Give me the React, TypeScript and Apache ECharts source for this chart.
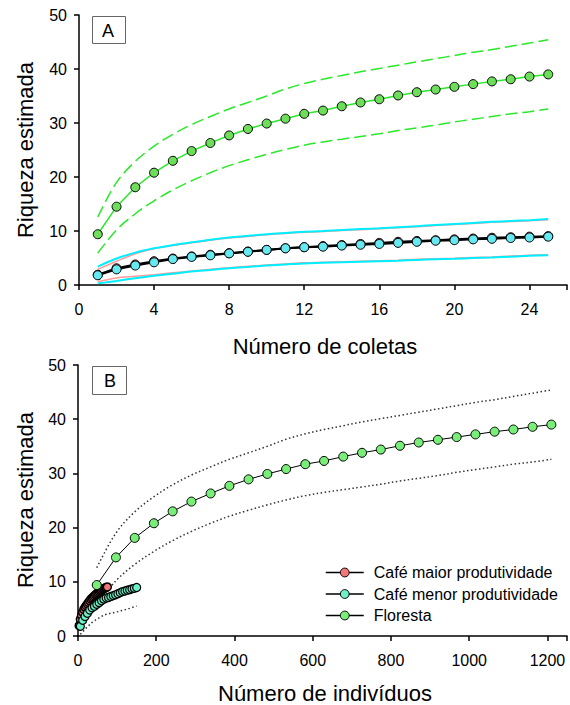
import React, { useEffect, useRef } from "react";
import * as echarts from "echarts";

// ---- Data ----
const samples = [1, 2, 3, 4, 5, 6, 7, 8, 9, 10, 11, 12, 13, 14, 15, 16, 17, 18, 19, 20, 21, 22, 23, 24, 25];

const florestaMean = [9.4, 14.5, 18.1, 20.8, 23.0, 24.8, 26.3, 27.7, 28.9, 29.9, 30.8, 31.7, 32.3, 33.1, 33.8, 34.4, 35.1, 35.7, 36.2, 36.7, 37.2, 37.7, 38.1, 38.6, 39.0];
const florestaUpper = [12.6, 19.0, 22.9, 25.7, 27.9, 29.7, 31.2, 32.6, 33.8, 35.0, 36.3, 37.3, 38.1, 38.8, 39.5, 40.1, 40.7, 41.3, 41.9, 42.5, 43.1, 43.6, 44.2, 44.8, 45.4];
const florestaLower = [5.9, 10.2, 13.2, 15.6, 17.6, 19.3, 20.8, 22.1, 23.2, 24.2, 25.1, 25.9, 26.5, 27.0, 27.5, 28.0, 28.6, 29.1, 29.6, 30.2, 30.7, 31.2, 31.7, 32.1, 32.6];

const menorMean = [1.8, 2.9, 3.6, 4.2, 4.8, 5.2, 5.5, 5.85, 6.15, 6.5, 6.8, 7.0, 7.1, 7.3, 7.45, 7.6, 7.8, 8.0, 8.2, 8.3, 8.45, 8.55, 8.7, 8.8, 8.95];
const menorUpper = [3.4, 4.9, 6.0, 6.8, 7.4, 7.9, 8.4, 8.8, 9.1, 9.4, 9.65, 9.85, 10.0, 10.2, 10.35, 10.5, 10.7, 10.9, 11.1, 11.3, 11.5, 11.7, 11.85, 12.0, 12.2];
const menorLower = [0.3, 0.75, 1.25, 1.7, 2.1, 2.5, 2.8, 3.1, 3.35, 3.6, 3.8, 4.0, 4.1, 4.2, 4.3, 4.4, 4.5, 4.65, 4.75, 4.85, 5.0, 5.1, 5.25, 5.4, 5.5];

const maiorMean = [1.9, 3.1, 3.8, 4.4, 4.9, 5.3, 5.6, 5.9, 6.2, 6.5, 6.8, 7.0, 7.2, 7.4, 7.6, 7.8, 8.0, 8.15, 8.3, 8.45, 8.6, 8.75, 8.85, 8.95, 9.05];
const maiorUpper = [2.9, 4.4, 5.8, 6.7, 7.3, 7.8, 8.3, 8.7, 9.0, 9.3, 9.55, 9.75, 9.9, 10.1, 10.25, 10.4, 10.6, 10.8, 11.0, 11.2, 11.4, 11.6, 11.75, 11.9, 12.1];
const maiorLower = [0.6, 1.3, 1.6, 1.9, 2.25, 2.6, 2.9, 3.2, 3.45, 3.7, 3.9, 4.1, 4.2, 4.3, 4.4, 4.5, 4.6, 4.75, 4.85, 4.95, 5.1, 5.2, 5.35, 5.5, 5.6];

const florestaIndiv = [48, 97, 145, 194, 242, 290, 339, 387, 436, 484, 532, 581, 629, 678, 726, 774, 823, 871, 920, 968, 1016, 1065, 1113, 1162, 1210];
const menorIndiv = [6, 12, 18, 24, 30, 36, 42, 48, 54, 60, 66, 72, 78, 84, 90, 96, 102, 108, 114, 120, 126, 132, 138, 144, 150];
const maiorIndiv = [3, 6, 9, 12, 15, 18, 21, 24, 27, 30, 33, 36, 39, 42, 45, 48, 51, 54, 57, 60, 63, 66, 69, 72, 75];

const yTicks = [0, 10, 20, 30, 40, 50];
const xTicksA = [0, 4, 8, 12, 16, 20, 24];
const xTicksB = [0, 200, 400, 600, 800, 1000, 1200];

const names = ["Café maior produtividade", "Café menor produtividade", "Floresta"];

const FONT = "'Liberation Sans', Arial, Helvetica, sans-serif";

const zip = (xs: number[], ys: number[]) => xs.map((x, i) => [x, ys[i]]);

export default function App() {
  const ref = useRef<HTMLDivElement>(null);
  useEffect(() => {
    if (!ref.current) return;
    const chart = echarts.init(ref.current, undefined, { renderer: "svg" });

    const axisCommon = {
      axisLine: { show: true, lineStyle: { color: "#000", width: 1.5 } },
      axisTick: { show: true, length: 5, lineStyle: { color: "#000", width: 1.5 } },
      splitLine: { show: false },
    };

    const xAxisFor = (grid: number, ticks: number[], max: number) => ({
      type: "value",
      gridIndex: grid,
      min: ticks[0],
      max,
      interval: ticks[1] - ticks[0],
      ...axisCommon,
      axisLabel: {
        fontSize: 16,
        color: "#000",
        fontFamily: FONT,
        margin: 16,
        formatter: (v: number) => (ticks.indexOf(v) >= 0 ? String(v) : ""),
      },
    });

    const yAxisFor = (grid: number) => ({
      type: "value",
      gridIndex: grid,
      min: yTicks[0],
      max: yTicks[yTicks.length - 1],
      interval: yTicks[1] - yTicks[0],
      ...axisCommon,
      axisLabel: { fontSize: 16, color: "#000", fontFamily: FONT, margin: 12 },
    });

    const ciLine = (data: number[][], grid: number, color: string, width: number, type: any, name: string) => ({
      type: "line",
      name,
      xAxisIndex: grid,
      yAxisIndex: grid,
      data,
      showSymbol: false,
      symbol: "none",
      smooth: 0.35,
      lineStyle: { color, width, type },
      silent: true,
    });

    const meanLine = (data: number[][], grid: number, lineColor: string, lineWidth: number, fill: string, size: number, bw: number, name: string) => ({
      type: "line",
      name,
      xAxisIndex: grid,
      yAxisIndex: grid,
      data,
      symbol: "circle",
      symbolSize: size,
      showSymbol: true,
      lineStyle: { color: lineColor, width: lineWidth },
      itemStyle: { color: fill, borderColor: "#000", borderWidth: bw },
    });

    const dotted = [1.5, 2.5];

    const option: any = {
      animation: false,
      backgroundColor: "#fff",
      textStyle: { fontFamily: FONT },
      grid: [
        { left: 79, top: 15, width: 494, height: 270 },
        { left: 78, top: 365, width: 494, height: 271 },
      ],
      xAxis: [xAxisFor(0, xTicksA, 26), xAxisFor(1, xTicksB, 1250)],
      yAxis: [yAxisFor(0), yAxisFor(1)],
      legend: {
        data: names,
        orient: "vertical",
        left: 325,
        top: 564,
        padding: 0,
        itemWidth: 38,
        itemHeight: 11,
        itemGap: 4.5,
        selectedMode: false,
        lineStyle: { width: 1.5 },
        itemStyle: { borderWidth: 1 },
        textStyle: { fontSize: 16, color: "#000", fontFamily: FONT, lineHeight: 17, padding: [0, 0, 0, 5] },
      },
      series: [
        // Panel A
        ciLine(zip(samples, maiorUpper), 0, "#ff9a9a", 1.5, "solid", "A maior sup"),
        ciLine(zip(samples, maiorLower), 0, "#ff9a9a", 1.5, "solid", "A maior inf"),
        ciLine(zip(samples, menorUpper), 0, "#00eeff", 2, "solid", "A menor sup"),
        ciLine(zip(samples, menorLower), 0, "#00eeff", 2, "solid", "A menor inf"),
        meanLine(zip(samples, maiorMean), 0, "#000", 2, "#f07878", 9, 1, "A maior"),
        meanLine(zip(samples, menorMean), 0, "#000", 2, "#66e8f0", 9, 1, "A menor"),
        ciLine(zip(samples, florestaUpper), 0, "#2ae82a", 1.5, [12, 5], "A floresta sup"),
        ciLine(zip(samples, florestaLower), 0, "#2ae82a", 1.5, [12, 5], "A floresta inf"),
        meanLine(zip(samples, florestaMean), 0, "#2ae82a", 1.5, "#6ede5a", 9, 1, "A floresta"),
        // Panel B
        ciLine(zip(florestaIndiv, florestaUpper), 1, "#333", 1.5, dotted, "B floresta sup"),
        ciLine(zip(florestaIndiv, florestaLower), 1, "#333", 1.5, dotted, "B floresta inf"),
        ciLine(zip(menorIndiv, menorLower), 1, "#333", 1.5, dotted, "B menor inf"),
        meanLine(zip(maiorIndiv, maiorMean), 1, "#000", 1, "#f07878", 8, 1.5, names[0]),
        meanLine(zip(menorIndiv, menorMean), 1, "#000", 1, "#6ef0c8", 8, 1.2, names[1]),
        meanLine(zip(florestaIndiv, florestaMean), 1, "#000", 1, "#78ee78", 9, 1, names[2]),
      ],
      graphic: [
        { type: "rect", shape: { x: 92.5, y: 16.5, width: 33, height: 27 }, style: { fill: "#fff", stroke: "#666", lineWidth: 1 }, z: 10 },
        { type: "text", x: 108, y: 31, style: { text: "A", fontSize: 18, fontFamily: FONT, fill: "#000", align: "center", verticalAlign: "middle" }, z: 11 },
        { type: "rect", shape: { x: 92.5, y: 366.5, width: 34, height: 28 }, style: { fill: "#fff", stroke: "#666", lineWidth: 1 }, z: 10 },
        { type: "text", x: 110, y: 381, style: { text: "B", fontSize: 18, fontFamily: FONT, fill: "#000", align: "center", verticalAlign: "middle" }, z: 11 },
        { type: "text", x: 325, y: 346, style: { text: "Número de coletas", fontSize: 22, fontFamily: FONT, fill: "#000", align: "center", verticalAlign: "middle" } },
        { type: "text", x: 325, y: 693, style: { text: "Número de indivíduos", fontSize: 22, fontFamily: FONT, fill: "#000", align: "center", verticalAlign: "middle" } },
        { type: "text", x: 25, y: 150, rotation: Math.PI / 2, style: { text: "Riqueza estimada", fontSize: 22, fontFamily: FONT, fill: "#000", align: "center", verticalAlign: "middle" } },
        { type: "text", x: 25, y: 500, rotation: Math.PI / 2, style: { text: "Riqueza estimada", fontSize: 22, fontFamily: FONT, fill: "#000", align: "center", verticalAlign: "middle" } },
      ],
    };

    chart.setOption(option);
    return () => chart.dispose();
  }, []);

  return <div ref={ref} style={{ position: "absolute", left: 0, top: 0, width: 570, height: 705 }} />;
}
